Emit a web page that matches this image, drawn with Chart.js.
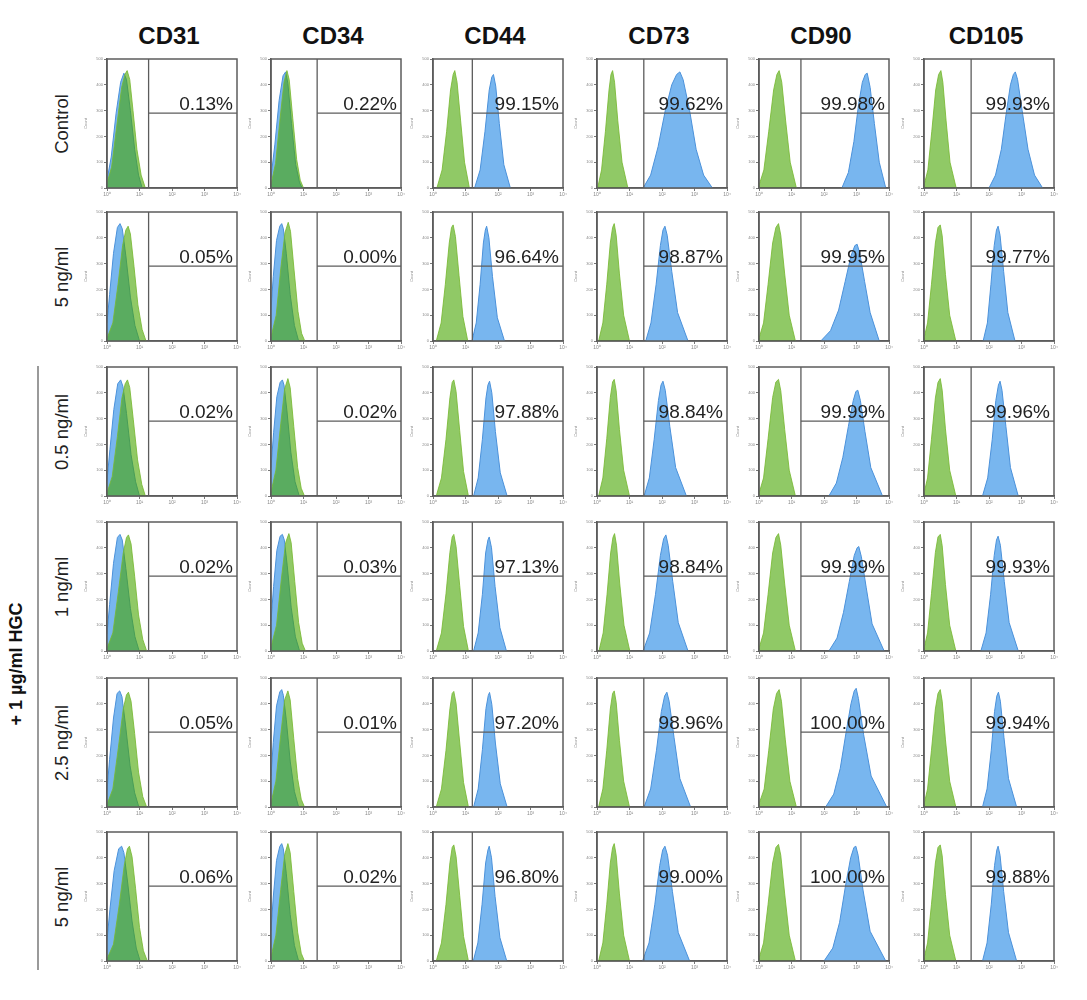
<!DOCTYPE html>
<html><head><meta charset="utf-8">
<script src="https://cdn.jsdelivr.net/npm/chart.js@4"></script>
<style>
body{margin:0;background:#fff;}
#wrap{position:relative;width:1087px;height:1000px;overflow:hidden;font-family:"Liberation Sans",Arial,sans-serif;background:#fff;}
#wrap canvas{position:absolute;}
.hdr{position:absolute;font-weight:bold;font-size:24px;line-height:24px;color:#111;text-align:center;width:160px;}
.rl{position:absolute;font-size:18.5px;line-height:20px;color:#222;white-space:nowrap;transform:translate(-50%,-50%) rotate(-90deg);}
.grp{position:absolute;font-size:18px;font-weight:bold;line-height:20px;color:#111;white-space:nowrap;transform:translate(-50%,-50%) rotate(-90deg);}
.vline{position:absolute;background:#9a9a9a;}
</style></head>
<body><div id="wrap"></div>
<script>
// ---------- data ----------
const markers = ['CD31','CD34','CD44','CD73','CD90','CD105'];
const conditions = ['Control','5 ng/ml','0.5 ng/ml','1 ng/ml','2.5 ng/ml','5 ng/ml'];
const groupLabel = '+ 1 µg/ml HGC';

const pctCD31  = [0.13, 0.05, 0.02, 0.02, 0.05, 0.06];
const pctCD34  = [0.22, 0.00, 0.02, 0.03, 0.01, 0.02];
const pctCD44  = [99.15, 96.64, 97.88, 97.13, 97.20, 96.80];
const pctCD73  = [99.62, 98.87, 98.84, 98.84, 98.96, 99.00];
const pctCD90  = [99.98, 99.95, 99.99, 99.99, 100.00, 100.00];
const pctCD105 = [99.93, 99.77, 99.96, 99.93, 99.94, 99.88];

const gateX = [1.28, 1.42, 1.21, 1.44, 1.29, 1.45];   // log10 fluorescence
const gateY = 290;                                     // count level of gate line

const xTicks = [0, 1, 2, 3, 4];
const xTickLabels = ['10⁰','10¹','10²','10³','10⁴'];
const yTicks = [0, 100, 200, 300, 400, 500];

// histograms: flat [log10 x, count, ...] per condition row
const isoCD31 = [
 [0,20, 0.14,80, 0.3,240, 0.45,390, 0.55,440, 0.62,455, 0.7,420, 0.8,300, 0.92,150, 1.05,50, 1.18,0],
 [0,10, 0.18,70, 0.34,220, 0.48,370, 0.58,430, 0.65,445, 0.72,415, 0.83,290, 0.95,140, 1.08,45, 1.2,0],
 [0,12, 0.16,75, 0.32,230, 0.46,380, 0.56,435, 0.63,450, 0.7,420, 0.81,295, 0.94,140, 1.07,45, 1.18,0],
 [0,10, 0.18,70, 0.35,230, 0.5,380, 0.6,440, 0.66,450, 0.74,415, 0.85,290, 0.97,140, 1.1,45, 1.22,0],
 [0,10, 0.18,70, 0.35,230, 0.5,380, 0.6,435, 0.66,445, 0.74,410, 0.85,285, 0.97,135, 1.1,40, 1.22,0],
 [0,8, 0.2,65, 0.38,220, 0.53,370, 0.63,435, 0.69,445, 0.77,405, 0.88,280, 1.0,130, 1.12,40, 1.24,0]
];
const stainCD31 = [
 [0,30, 0.13,120, 0.28,290, 0.42,410, 0.52,445, 0.6,420, 0.72,300, 0.85,150, 0.97,50, 1.08,0],
 [0,70, 0.08,180, 0.2,340, 0.32,440, 0.4,455, 0.47,435, 0.58,330, 0.72,170, 0.86,60, 1.0,0],
 [0,60, 0.09,180, 0.21,335, 0.33,435, 0.42,450, 0.49,425, 0.6,320, 0.74,160, 0.88,55, 1.0,0],
 [0,65, 0.08,180, 0.2,340, 0.32,440, 0.4,452, 0.47,430, 0.58,320, 0.72,165, 0.86,55, 0.99,0],
 [0,65, 0.08,185, 0.2,345, 0.31,440, 0.39,450, 0.46,428, 0.57,318, 0.71,160, 0.85,55, 0.98,0],
 [0,80, 0.09,200, 0.22,350, 0.36,435, 0.45,445, 0.52,420, 0.63,310, 0.77,155, 0.9,50, 1.02,0]
];
const isoCD34 = [
 [0,15, 0.14,95, 0.28,270, 0.4,410, 0.49,455, 0.56,420, 0.67,270, 0.79,110, 0.9,30, 1.0,0],
 [0,15, 0.16,100, 0.3,280, 0.43,420, 0.53,460, 0.6,425, 0.71,275, 0.83,115, 0.94,30, 1.04,0],
 [0,15, 0.15,100, 0.3,280, 0.42,415, 0.52,455, 0.59,420, 0.7,270, 0.82,110, 0.93,30, 1.03,0],
 [0,15, 0.17,100, 0.32,280, 0.45,420, 0.55,455, 0.62,420, 0.73,270, 0.85,110, 0.96,30, 1.06,0],
 [0,15, 0.15,100, 0.3,280, 0.42,415, 0.52,450, 0.59,415, 0.7,265, 0.82,110, 0.93,30, 1.03,0],
 [0,15, 0.15,100, 0.3,278, 0.42,412, 0.52,455, 0.59,420, 0.7,270, 0.82,112, 0.93,30, 1.03,0]
];
const stainCD34 = [
 [0,40, 0.12,170, 0.25,340, 0.37,435, 0.45,450, 0.52,405, 0.63,250, 0.76,90, 0.88,20, 0.96,0],
 [0,120, 0.07,250, 0.17,390, 0.27,445, 0.33,455, 0.38,435, 0.47,340, 0.59,180, 0.72,60, 0.85,0],
 [0,110, 0.08,245, 0.18,385, 0.28,440, 0.35,450, 0.4,430, 0.49,330, 0.61,170, 0.74,55, 0.87,0],
 [0,115, 0.08,250, 0.18,390, 0.28,445, 0.35,452, 0.41,430, 0.5,330, 0.62,170, 0.75,55, 0.88,0],
 [0,120, 0.07,250, 0.17,392, 0.27,446, 0.33,455, 0.38,433, 0.47,338, 0.59,178, 0.72,60, 0.85,0],
 [0,118, 0.07,248, 0.17,390, 0.27,444, 0.33,455, 0.38,435, 0.47,340, 0.59,180, 0.72,60, 0.85,0]
];
const isoCD44 = [
 [0.12,0, 0.28,70, 0.42,220, 0.54,380, 0.62,440, 0.67,455, 0.74,410, 0.85,260, 0.97,100, 1.12,0],
 [0.1,0, 0.25,70, 0.38,220, 0.5,380, 0.57,440, 0.62,450, 0.69,405, 0.8,255, 0.92,95, 1.07,0],
 [0.1,0, 0.26,70, 0.4,220, 0.52,380, 0.59,440, 0.64,450, 0.71,405, 0.82,255, 0.94,95, 1.09,0],
 [0.1,0, 0.26,70, 0.4,222, 0.52,382, 0.59,442, 0.64,452, 0.71,405, 0.82,255, 0.94,95, 1.09,0],
 [0.1,0, 0.26,70, 0.4,220, 0.52,380, 0.59,440, 0.64,448, 0.71,402, 0.82,252, 0.94,95, 1.09,0],
 [0.1,0, 0.26,70, 0.4,220, 0.52,380, 0.59,440, 0.64,450, 0.71,405, 0.82,255, 0.94,95, 1.09,0]
];
const stainCD44 = [
 [1.28,0, 1.45,70, 1.6,220, 1.73,380, 1.81,430, 1.86,440, 1.93,395, 2.04,250, 2.18,90, 2.38,0],
 [1.2,0, 1.33,70, 1.45,220, 1.55,380, 1.61,430, 1.65,445, 1.72,400, 1.83,250, 1.98,90, 2.2,0],
 [1.25,0, 1.39,70, 1.52,220, 1.63,380, 1.69,430, 1.74,445, 1.81,400, 1.92,250, 2.07,90, 2.28,0],
 [1.25,0, 1.39,70, 1.52,220, 1.62,380, 1.69,430, 1.73,442, 1.8,400, 1.91,250, 2.06,90, 2.26,0],
 [1.25,0, 1.39,70, 1.52,222, 1.63,382, 1.7,432, 1.74,444, 1.81,398, 1.92,248, 2.07,90, 2.28,0],
 [1.24,0, 1.38,70, 1.51,220, 1.62,380, 1.69,430, 1.73,445, 1.8,400, 1.91,250, 2.06,90, 2.27,0]
];
const isoCD73 = [
 [0.02,0, 0.14,70, 0.26,220, 0.37,380, 0.43,440, 0.48,455, 0.54,410, 0.64,260, 0.77,100, 0.95,0],
 [0.05,0, 0.18,70, 0.3,220, 0.41,380, 0.48,440, 0.53,455, 0.59,410, 0.69,260, 0.82,100, 1.0,0],
 [0.05,0, 0.18,70, 0.3,222, 0.41,382, 0.48,442, 0.53,452, 0.59,408, 0.69,258, 0.82,100, 1.0,0],
 [0.06,0, 0.19,70, 0.31,220, 0.42,380, 0.49,440, 0.54,455, 0.6,410, 0.7,260, 0.83,100, 1.01,0],
 [0.05,0, 0.18,70, 0.3,220, 0.41,380, 0.48,440, 0.53,450, 0.59,406, 0.69,258, 0.82,100, 1.0,0],
 [0.05,0, 0.18,70, 0.3,220, 0.41,380, 0.48,440, 0.53,455, 0.59,410, 0.69,260, 0.82,100, 1.0,0]
];
const stainCD73 = [
 [1.42,0, 1.65,50, 1.88,160, 2.1,300, 2.3,400, 2.45,440, 2.55,450, 2.65,420, 2.85,300, 3.05,150, 3.28,50, 3.55,0],
 [1.5,0, 1.66,70, 1.82,220, 1.95,370, 2.03,430, 2.09,445, 2.16,410, 2.3,270, 2.48,110, 2.8,0],
 [1.45,0, 1.61,70, 1.76,220, 1.89,370, 1.97,430, 2.03,445, 2.1,410, 2.24,270, 2.42,110, 2.75,0],
 [1.42,0, 1.62,70, 1.8,220, 1.95,370, 2.05,435, 2.12,450, 2.19,410, 2.33,270, 2.5,110, 2.8,0],
 [1.45,0, 1.65,70, 1.83,220, 1.98,370, 2.08,430, 2.15,445, 2.22,410, 2.37,270, 2.55,110, 2.88,0],
 [1.4,0, 1.6,70, 1.78,220, 1.93,370, 2.02,430, 2.09,445, 2.17,410, 2.32,270, 2.5,110, 2.85,0]
];
const isoCD90 = [
 [0.0,10, 0.15,70, 0.3,220, 0.45,380, 0.55,440, 0.62,455, 0.7,410, 0.82,260, 0.96,100, 1.15,0],
 [0.0,10, 0.14,70, 0.28,220, 0.42,380, 0.52,440, 0.6,455, 0.67,410, 0.79,260, 0.93,100, 1.12,0],
 [0.0,10, 0.14,70, 0.28,222, 0.42,382, 0.52,442, 0.6,452, 0.67,408, 0.79,258, 0.93,100, 1.12,0],
 [0.0,10, 0.14,70, 0.28,220, 0.42,380, 0.52,440, 0.6,455, 0.67,410, 0.79,260, 0.93,100, 1.12,0],
 [0.0,12, 0.16,70, 0.3,220, 0.44,380, 0.54,440, 0.62,455, 0.69,410, 0.81,260, 0.95,100, 1.15,0],
 [0.0,10, 0.14,70, 0.28,220, 0.42,380, 0.52,440, 0.6,452, 0.67,410, 0.79,260, 0.93,100, 1.12,0]
];
const stainCD90 = [
 [2.55,0, 2.75,60, 2.92,180, 3.06,320, 3.18,410, 3.27,440, 3.33,445, 3.42,390, 3.55,250, 3.7,100, 3.9,0],
 [1.9,0, 2.2,40, 2.45,120, 2.65,230, 2.83,330, 2.95,370, 3.02,375, 3.1,340, 3.25,230, 3.42,110, 3.7,0],
 [2.15,0, 2.38,50, 2.58,150, 2.75,270, 2.9,370, 2.98,405, 3.04,410, 3.12,370, 3.26,250, 3.44,110, 3.8,0],
 [2.15,0, 2.4,50, 2.6,150, 2.78,270, 2.93,370, 3.02,400, 3.07,405, 3.15,365, 3.3,245, 3.48,105, 3.85,0],
 [2.05,0, 2.3,50, 2.5,150, 2.68,290, 2.83,400, 2.93,450, 2.99,460, 3.06,420, 3.22,280, 3.45,120, 3.93,0],
 [2.0,0, 2.27,50, 2.48,150, 2.66,290, 2.82,400, 2.92,440, 2.98,445, 3.05,410, 3.2,275, 3.42,115, 3.9,0]
];
const isoCD105 = [
 [0.0,10, 0.12,70, 0.24,220, 0.36,380, 0.45,440, 0.52,455, 0.58,410, 0.68,260, 0.8,100, 0.99,0],
 [0.0,10, 0.11,70, 0.23,220, 0.35,380, 0.43,440, 0.5,450, 0.56,408, 0.66,258, 0.79,100, 0.98,0],
 [0.0,10, 0.11,70, 0.23,220, 0.35,380, 0.43,440, 0.5,455, 0.56,410, 0.66,260, 0.79,100, 0.98,0],
 [0.0,10, 0.11,70, 0.23,222, 0.35,382, 0.43,442, 0.5,452, 0.56,408, 0.66,258, 0.79,100, 0.98,0],
 [0.0,10, 0.11,70, 0.23,220, 0.35,380, 0.43,440, 0.5,455, 0.56,410, 0.66,260, 0.79,100, 0.98,0],
 [0.0,10, 0.11,70, 0.23,220, 0.35,380, 0.43,440, 0.5,450, 0.56,408, 0.66,258, 0.79,100, 0.98,0]
];
const stainCD105 = [
 [2.0,0, 2.2,50, 2.38,150, 2.53,290, 2.66,400, 2.75,440, 2.81,450, 2.88,420, 3.02,300, 3.2,150, 3.4,50, 3.65,0],
 [1.82,0, 1.95,70, 2.06,220, 2.16,370, 2.23,430, 2.28,445, 2.34,410, 2.45,270, 2.58,110, 2.8,0],
 [1.8,0, 1.96,70, 2.1,220, 2.21,370, 2.29,430, 2.34,445, 2.4,410, 2.52,270, 2.66,110, 2.9,0],
 [1.75,0, 1.91,70, 2.05,220, 2.16,370, 2.23,430, 2.28,445, 2.35,410, 2.47,270, 2.62,110, 2.9,0],
 [1.8,0, 1.94,70, 2.07,220, 2.17,370, 2.24,430, 2.29,445, 2.35,410, 2.46,270, 2.6,110, 2.85,0],
 [1.8,0, 1.94,70, 2.07,220, 2.17,370, 2.24,430, 2.28,445, 2.34,410, 2.45,270, 2.6,110, 2.85,0]
];

// ---------- layout ----------
const colLeft = [107, 271, 433, 597, 759, 924];
const rowTop  = [59, 212, 367, 522, 678, 832];
const boxW = 130, boxH = 129;
const PADL = 24, PADR = 8, PADT = 6, PADB = 16;

const pctAll   = [pctCD31, pctCD34, pctCD44, pctCD73, pctCD90, pctCD105];
const isoAll   = [isoCD31, isoCD34, isoCD44, isoCD73, isoCD90, isoCD105];
const stainAll = [stainCD31, stainCD34, stainCD44, stainCD73, stainCD90, stainCD105];

const wrap = document.getElementById('wrap');
function addDiv(cls, text, styles){
  const d = document.createElement('div'); d.className = cls; d.textContent = text;
  Object.assign(d.style, styles); wrap.appendChild(d); return d;
}
markers.forEach((m,c)=>{
  addDiv('hdr', m, {left:(colLeft[c]+boxW/2-3-80)+'px', top:'24px'});
});
conditions.forEach((t,r)=>{
  addDiv('rl', t, {left:'62px', top:(rowTop[r]+boxH/2)+'px'});
});
addDiv('grp', groupLabel, {left:'16px', top:((rowTop[2]+rowTop[5]+boxH)/2)+'px'});
addDiv('vline', '', {left:'37px', top:(rowTop[2]-1)+'px', width:'2px', height:(rowTop[5]+boxH-rowTop[2]+10)+'px'});

const toPts = a => { const p=[]; for(let i=0;i<a.length;i+=2) p.push({x:a[i], y:a[i+1]}); return p; };

Chart.defaults.font.family = '"Liberation Sans", Arial, sans-serif';

for (let r=0;r<6;r++){
  for (let c=0;c<6;c++){
    const cv = document.createElement('canvas');
    const W = boxW+PADL+PADR, H = boxH+PADT+PADB;
    cv.width = W; cv.height = H;
    cv.style.left = (colLeft[c]-PADL)+'px'; cv.style.top = (rowTop[r]-PADT)+'px';
    cv.style.width = W+'px'; cv.style.height = H+'px';
    wrap.appendChild(cv);
    const label = pctAll[c][r].toFixed(2)+'%';
    const overlay = {
      id:'overlay',
      afterDatasetsDraw(chart){
        const {ctx, chartArea:a, scales} = chart;
        ctx.save();
        ctx.strokeStyle = '#5c5c5c'; ctx.lineWidth = 1.5;
        ctx.strokeRect(a.left, a.top, a.right-a.left, a.bottom-a.top);
        ctx.font = '19px "Liberation Sans", Arial, sans-serif';
        ctx.fillStyle = '#222'; ctx.textAlign = 'right'; ctx.textBaseline = 'alphabetic';
        ctx.fillText(label, a.right-4, scales.y.getPixelForValue(gateY)-3);
        ctx.restore();
      }
    };
    new Chart(cv, {
      type:'line',
      data:{datasets:[
        {data:[{x:gateX[c],y:0},{x:gateX[c],y:500}], borderColor:'#5c5c5c', borderWidth:1.3, pointRadius:0, fill:false},
        {data:[{x:gateX[c],y:gateY},{x:4,y:gateY}], borderColor:'#5c5c5c', borderWidth:1.3, pointRadius:0, fill:false},
        {data:toPts(isoAll[c][r]), backgroundColor:'rgba(70,165,0,0.6)', borderColor:'rgba(120,185,50,0.85)', borderWidth:1, pointRadius:0, fill:'origin', tension:0},
        {data:toPts(stainAll[c][r]), backgroundColor:'rgba(108,176,238,0.92)', borderColor:'rgb(75,145,218)', borderWidth:1, pointRadius:0, fill:'origin', tension:0}
      ]},
      options:{
        responsive:false, animation:false, devicePixelRatio:1, events:[],
        layout:{padding:{left:0, top:PADT, right:PADR, bottom:0}},
        plugins:{legend:{display:false}, tooltip:{enabled:false}},
        scales:{
          x:{type:'linear', min:0, max:4,
             afterBuildTicks:s=>{ s.ticks = xTicks.map(v=>({value:v})); },
             afterFit:s=>{ s.height = PADB; },
             ticks:{callback:v=>xTickLabels[xTicks.indexOf(v)], font:{size:5}, color:'#888', padding:1, maxRotation:0, autoSkip:false},
             grid:{drawOnChartArea:false, tickLength:3, color:'#777'},
             border:{color:'#5c5c5c', width:1.5}},
          y:{min:0, max:500,
             afterBuildTicks:s=>{ s.ticks = yTicks.map(v=>({value:v})); },
             afterFit:s=>{ s.width = PADL; },
             ticks:{font:{size:4}, color:'#888', padding:1, autoSkip:false},
             title:{display:true, text:'Count', font:{size:4}, color:'#888', padding:0},
             grid:{drawOnChartArea:false, tickLength:3, color:'#777'},
             border:{color:'#5c5c5c', width:1.5}}
        }
      },
      plugins:[overlay]
    });
  }
}
</script>
</body></html>
